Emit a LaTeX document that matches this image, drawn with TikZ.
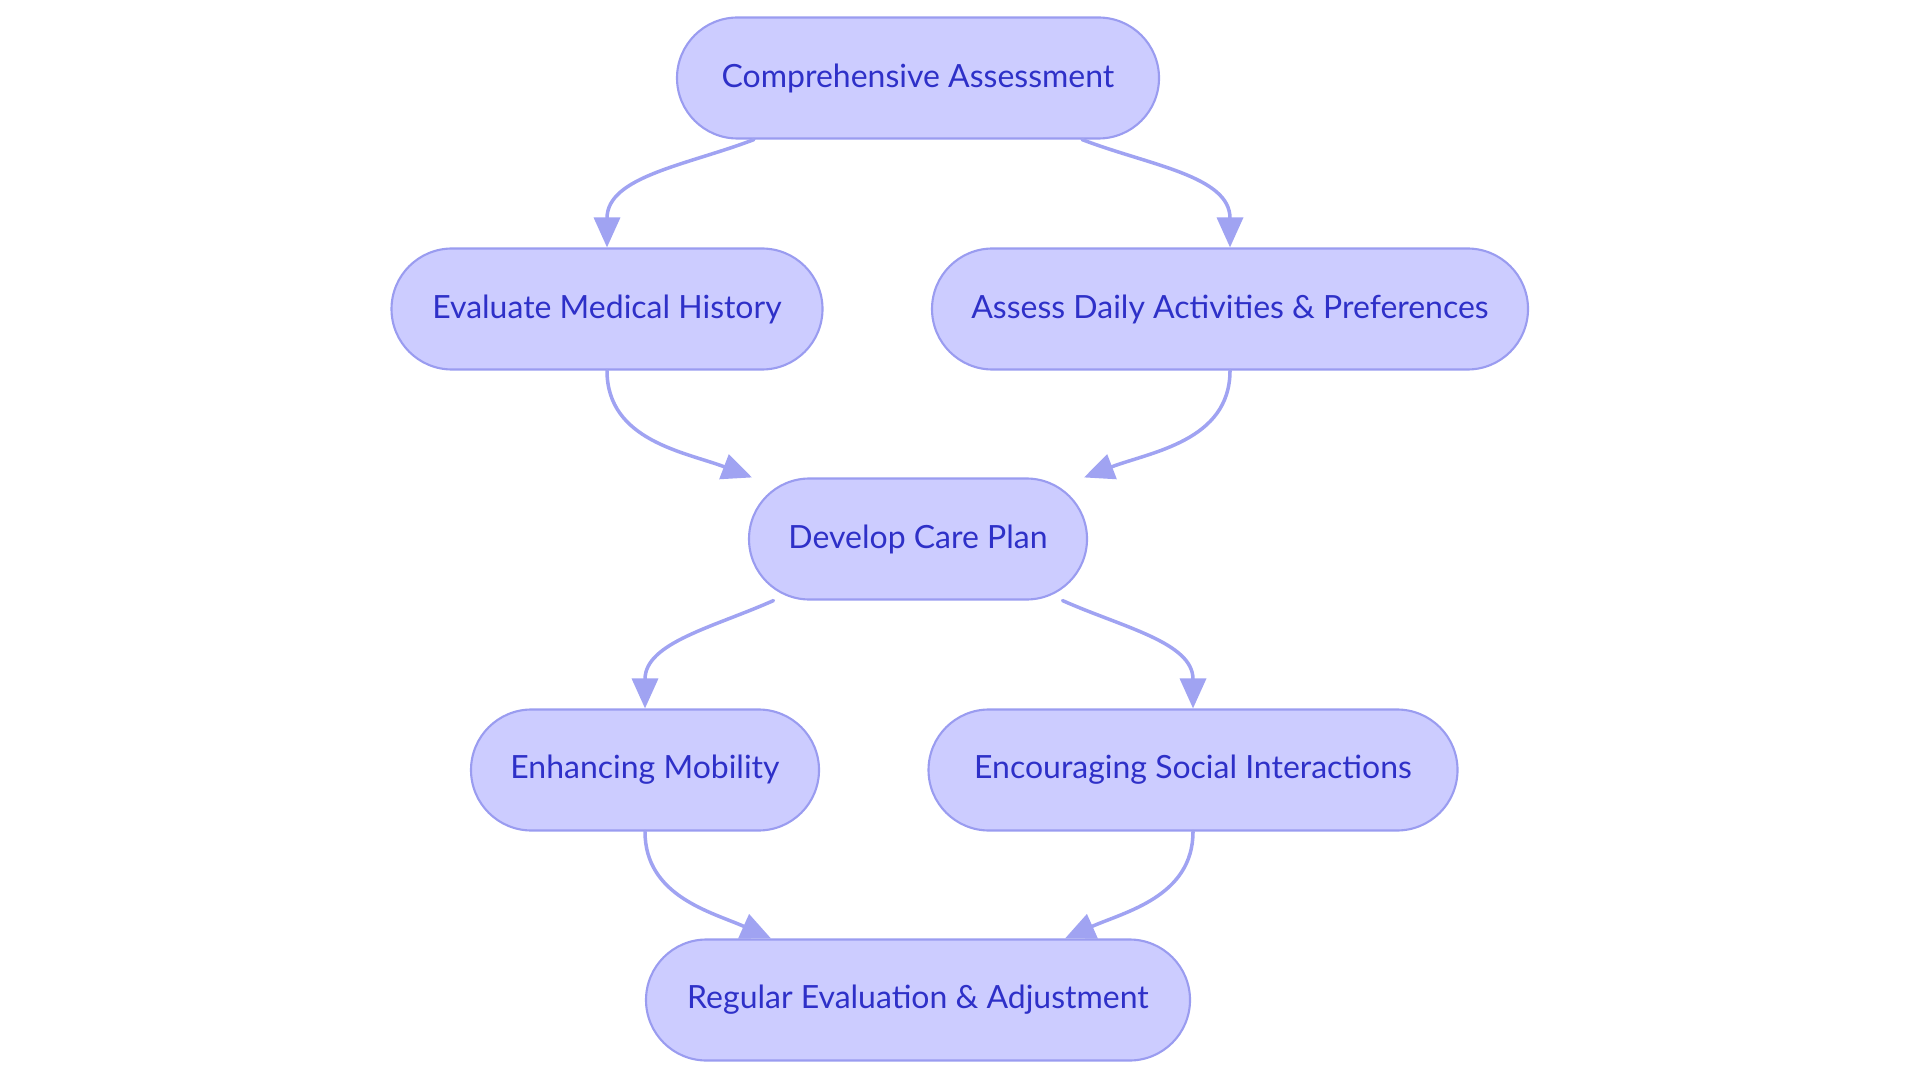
\documentclass[tikz,border=0pt]{standalone}
\usepackage{fontspec}
\setmainfont{Lato}
\usepackage{tikz}
\usetikzlibrary{arrows.meta,shapes.misc}
\definecolor{boxfill}{HTML}{CCCCFF}
\definecolor{boxline}{HTML}{9A9CF0}
\definecolor{flowline}{HTML}{A0A3F2}
\definecolor{label}{HTML}{2E30C8}
\tikzset{
  StepBox/.style={
    rounded rectangle,
    draw=boxline, line width=0.6pt,
    fill=boxfill,
    minimum height=1.21cm,
    inner xsep=0pt,
    text=label,
    font=\fontsize{9.1}{11}\selectfont
  },
  Flow/.style={
    draw=flowline, line width=1pt,
    -{Triangle[length=0.3cm, width=0.26cm]}
  }
}

\begin{document}
\begin{tikzpicture}[line cap=round, line join=round]
  \useasboundingbox (0,0) rectangle (19.2,-10.83);

  % one row per stage
  \node[StepBox, minimum width=4.82cm] (assess)  at (9.18,-0.78) {Comprehensive Assessment};
  \node[StepBox, minimum width=4.31cm] (history) at (6.07,-3.09) {Evaluate Medical History};
  \node[StepBox, minimum width=5.96cm] (daily)   at (12.30,-3.09) {Assess Daily Activities \& Preferences};
  \node[StepBox, minimum width=3.38cm] (plan)    at (9.18,-5.39) {Develop Care Plan};
  \node[StepBox, minimum width=3.48cm] (mobil)   at (6.45,-7.70) {Enhancing Mobility};
  \node[StepBox, minimum width=5.29cm] (social)  at (11.93,-7.70) {Encouraging Social Interactions};
  \node[StepBox, minimum width=5.44cm] (review)  at (9.18,-10.00) {Regular Evaluation \& Adjustment};

  % split out of the assessment
  \draw[Flow] ([xshift=-1.64cm]assess.south) to[out=201, in=90] (history.north);
  \draw[Flow] ([xshift=1.64cm]assess.south) to[out=-21, in=90] (daily.north);

  % join into the plan
  \draw[Flow] (history.south) to[out=-90, in=159] ([xshift=-1.66cm]plan.north);
  \draw[Flow] (daily.south) to[out=-90, in=21] ([xshift=1.66cm]plan.north);

  % split out of the plan
  \draw[Flow] ([xshift=-1.445cm]plan.south) to[out=204, in=90] (mobil.north);
  \draw[Flow] ([xshift=1.445cm]plan.south) to[out=-24, in=90] (social.north);

  % join into the review
  \draw[Flow] (mobil.south) to[out=-90, in=156] ([xshift=-1.47cm]review.north);
  \draw[Flow] (social.south) to[out=-90, in=24] ([xshift=1.47cm]review.north);
\end{tikzpicture}
\end{document}
